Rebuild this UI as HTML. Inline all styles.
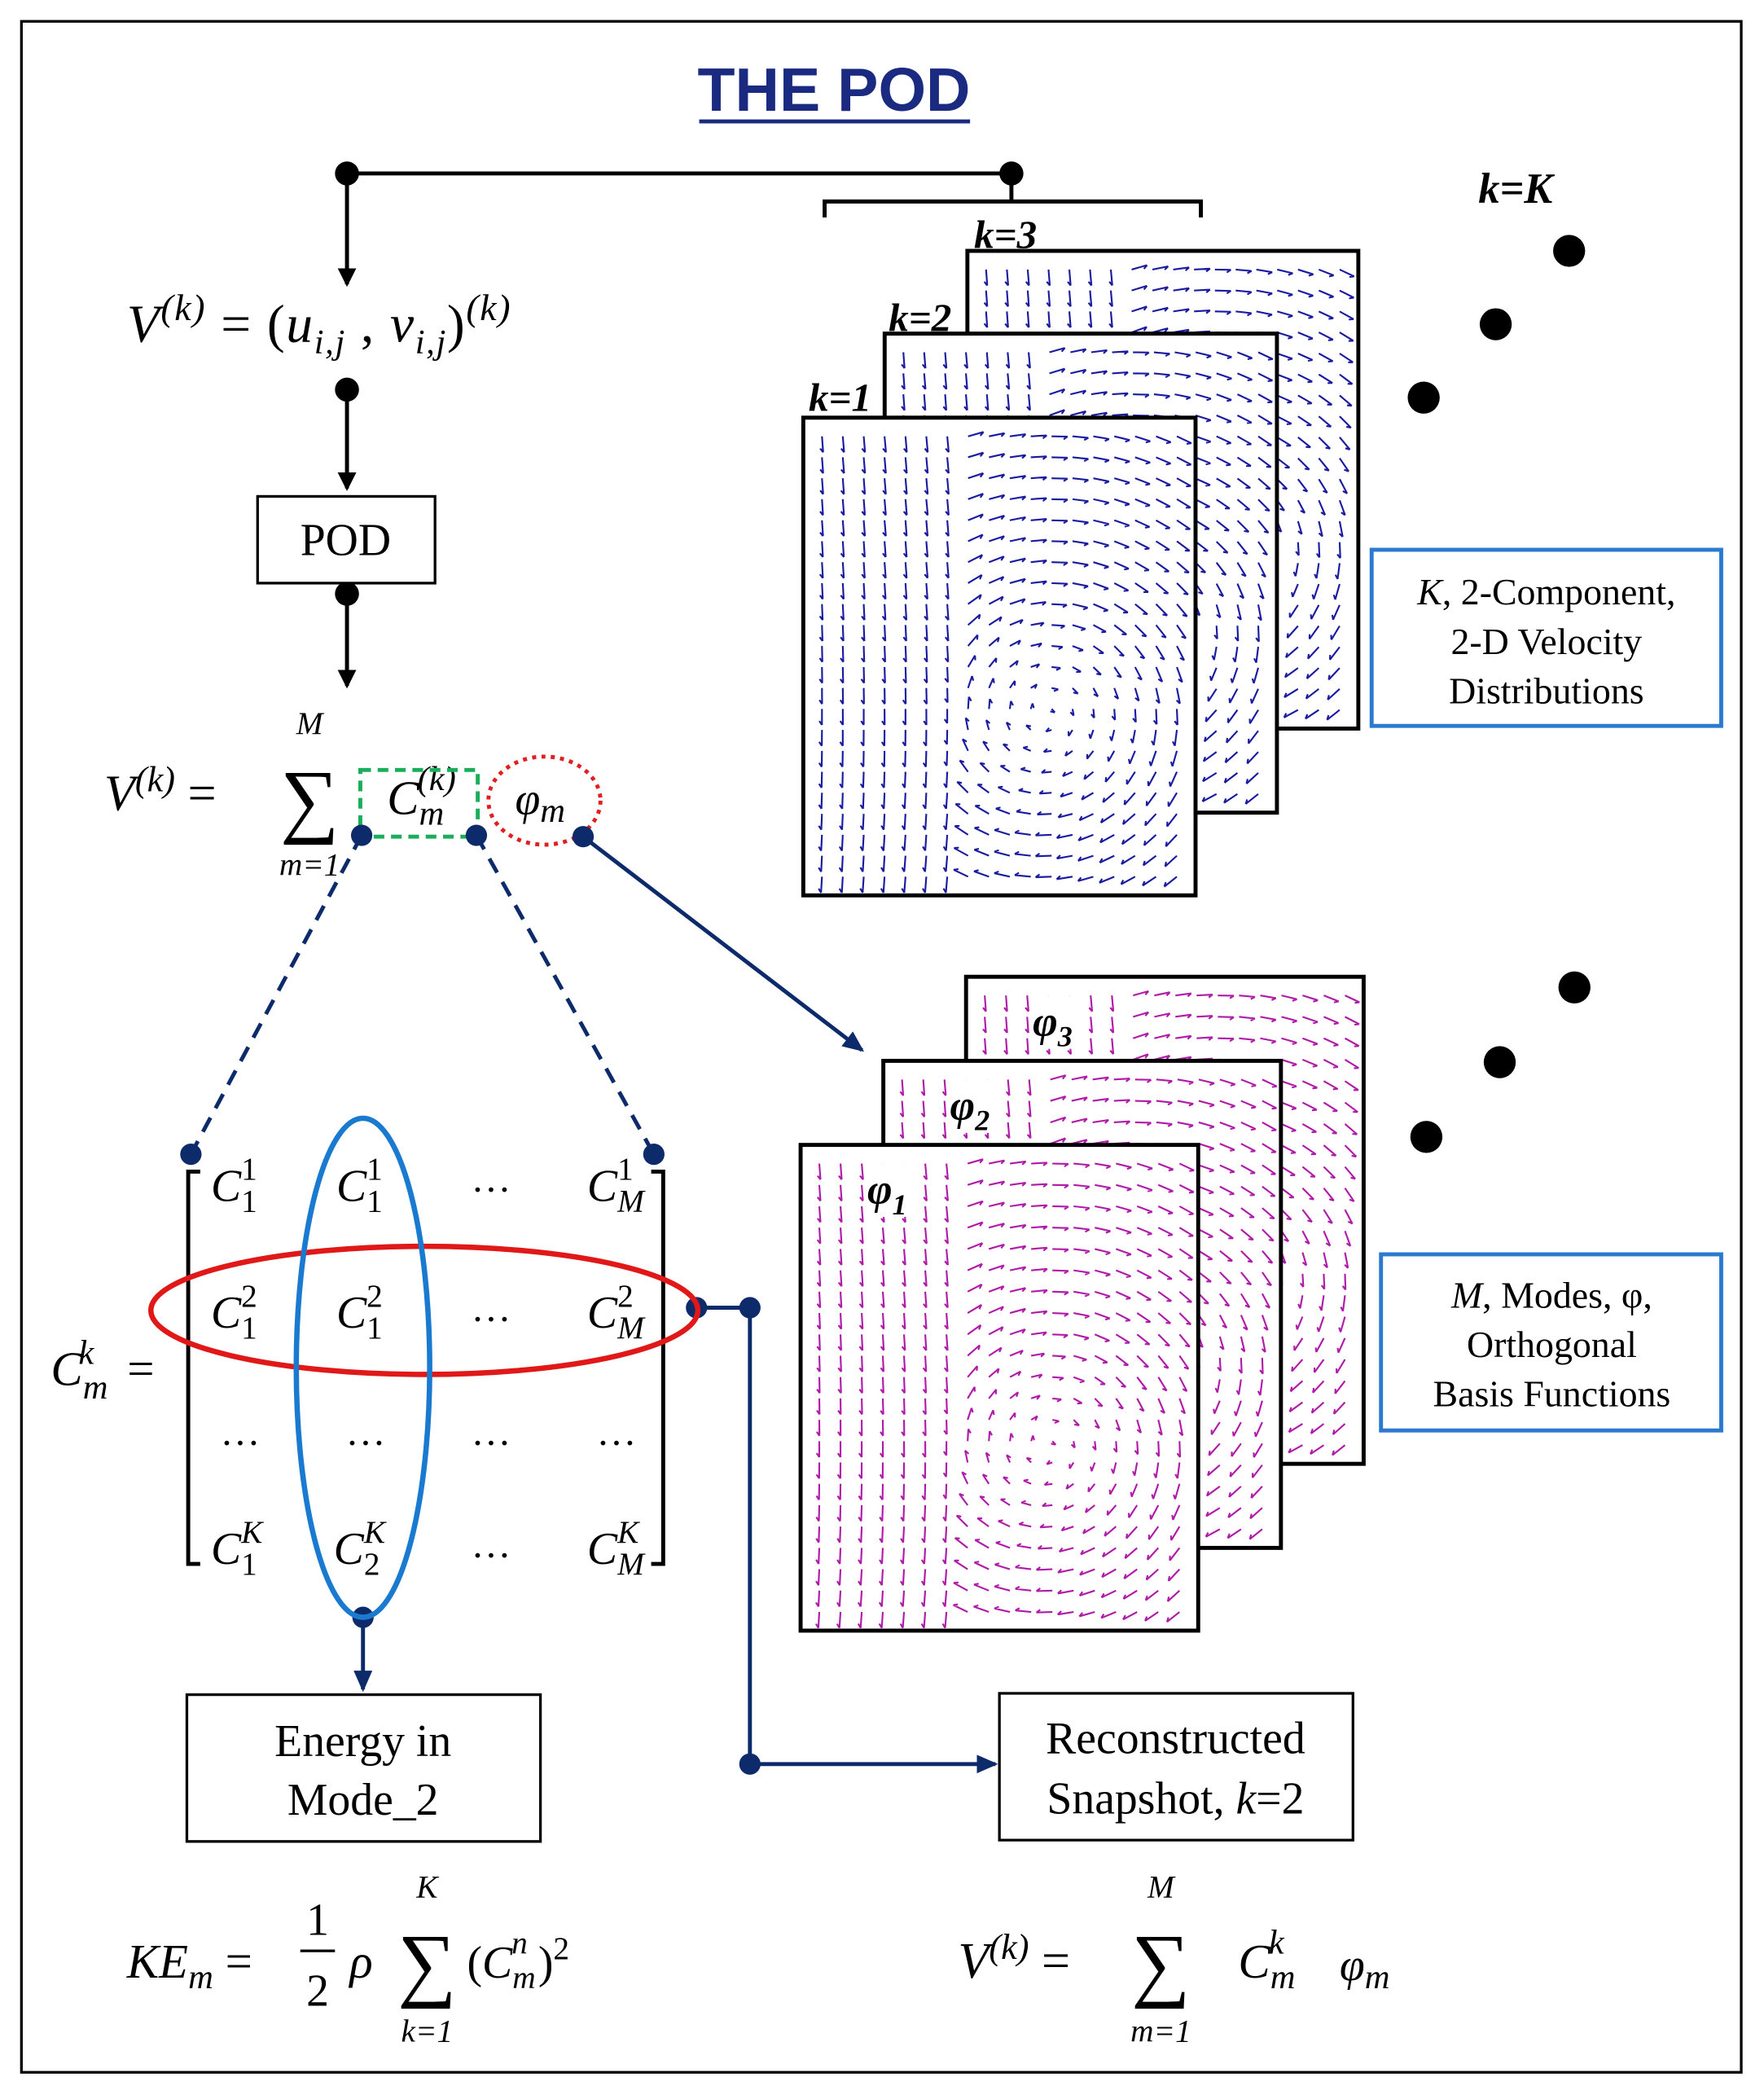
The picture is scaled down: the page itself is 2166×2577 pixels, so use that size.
<!DOCTYPE html>
<html><head><meta charset="utf-8"><style>
html,body{margin:0;padding:0;background:#fff}
svg{display:block}
text{font-family:"Liberation Serif",serif}
.it{font-style:italic}
.up{font-style:normal}
</style></head><body>
<svg id="s" width="2166" height="2577" viewBox="0 0 1322 1573" xmlns="http://www.w3.org/2000/svg">
<defs>
<marker id="an" markerWidth="16" markerHeight="14" refX="14" refY="7" orient="auto" markerUnits="userSpaceOnUse"><path d="M0,0 L16,7 L0,14 z" fill="#0d2a6b"/></marker>
<marker id="ab" markerWidth="14" markerHeight="14" refX="12" refY="7" orient="auto" markerUnits="userSpaceOnUse"><path d="M0,0 L14,7 L0,14 z" fill="#000"/></marker>
</defs>
<rect x="16" y="16" width="1289" height="1537" fill="#fff" stroke="#000" stroke-width="2"/>
<text x="625" y="83" text-anchor="middle" font-weight="bold" font-size="46" fill="#1a2a80" style="font-family:'Liberation Sans',sans-serif">THE POD</text>
<line x1="524" y1="91" x2="727" y2="91" stroke="#1a2a80" stroke-width="3"/>

<g stroke="#000" stroke-width="3" fill="none">
<line x1="260" y1="130" x2="758" y2="130"/>
<line x1="260" y1="130" x2="260" y2="213" marker-end="url(#ab)"/>
<path d="M618,163 V151 H900 V163"/>
<line x1="758" y1="130" x2="758" y2="151"/>
<line x1="260" y1="292" x2="260" y2="366" marker-end="url(#ab)"/>
<line x1="260" y1="445" x2="260" y2="514" marker-end="url(#ab)"/>
</g>
<g fill="#000"><circle cx="260" cy="130" r="9"/><circle cx="758" cy="130" r="9"/><circle cx="260" cy="292" r="9"/><circle cx="260" cy="445" r="9"/></g>

<text x="95" y="256" font-size="40" class="it" letter-spacing="1">V<tspan dy="-16" font-size="28">(k)</tspan><tspan dy="16" class="up"> = (</tspan>u<tspan dy="9" font-size="26">i,j</tspan><tspan dy="-9" class="up"> , </tspan>v<tspan dy="9" font-size="26">i,j</tspan><tspan dy="-9" class="up">)</tspan><tspan dy="-16" font-size="28">(k)</tspan></text>

<rect x="193" y="372" width="133" height="65" fill="#fff" stroke="#000" stroke-width="2"/>
<text x="259" y="416" text-anchor="middle" font-size="34">POD</text>

<text x="78" y="607" font-size="38" class="it">V<tspan dy="-14" font-size="27">(k)</tspan><tspan dy="14" class="up"> =</tspan></text>
<text x="232" y="620" text-anchor="middle" font-size="62">∑</text>
<text x="232" y="550" text-anchor="middle" font-size="24" class="it">M</text>
<text x="232" y="656" text-anchor="middle" font-size="24" class="it">m=1</text>
<text x="290" y="610" font-size="36" class="it">C<tspan dy="8" font-size="26">m</tspan><tspan dx="-20" dy="-26" font-size="26">(k)</tspan></text>
<text x="386" y="610" font-size="34" class="it">φ<tspan dy="6" font-size="26">m</tspan></text>
<rect x="270" y="577" width="88" height="50" fill="none" stroke="#1aae5a" stroke-width="3" stroke-dasharray="8,5"/>
<ellipse cx="408" cy="600" rx="42" ry="33" fill="none" stroke="#e02020" stroke-width="3" stroke-dasharray="3,4"/>
<g stroke="#0d2a6b" stroke-width="3" fill="none">
<line x1="271" y1="626" x2="143" y2="865" stroke-dasharray="12,8"/>
<line x1="357" y1="626" x2="490" y2="865" stroke-dasharray="12,8"/>
<line x1="437" y1="627" x2="646" y2="787" marker-end="url(#an)"/>
<path d="M522,980 H562 V1322 H746" marker-end="url(#an)"/>
<line x1="272" y1="1212" x2="272" y2="1266" marker-end="url(#an)"/>
</g>
<g fill="#0d2a6b"><circle cx="271" cy="626" r="8"/><circle cx="357" cy="626" r="8"/><circle cx="437" cy="627" r="8"/><circle cx="143" cy="865" r="8"/><circle cx="490" cy="865" r="8"/><circle cx="522" cy="980" r="8"/><circle cx="562" cy="980" r="8"/><circle cx="562" cy="1322" r="8"/><circle cx="272" cy="1212" r="8"/></g>

<path d="M150,878 H141 V1172 H150" fill="none" stroke="#000" stroke-width="3"/>
<path d="M488,878 H497 V1172 H488" fill="none" stroke="#000" stroke-width="3"/>
<text x="38" y="1038" font-size="36" class="it">C<tspan dy="10" font-size="26">m</tspan><tspan dx="-22" dy="-26" font-size="26">k</tspan><tspan dx="16" dy="16" class="up" font-size="36"> =</tspan></text>
<g font-size="34" class="it">
<text x="158" y="900">C<tspan dy="8" font-size="24" class="up">1</tspan><tspan dx="-12" dy="-24" font-size="24" class="up">1</tspan></text>
<text x="252" y="900">C<tspan dy="8" font-size="24" class="up">1</tspan><tspan dx="-12" dy="-24" font-size="24" class="up">1</tspan></text>
<text x="440" y="900">C<tspan dy="8" font-size="24">M</tspan><tspan dx="-20" dy="-24" font-size="24" class="up">1</tspan></text>
<text x="158" y="995">C<tspan dy="8" font-size="24" class="up">1</tspan><tspan dx="-12" dy="-24" font-size="24" class="up">2</tspan></text>
<text x="252" y="995">C<tspan dy="8" font-size="24" class="up">1</tspan><tspan dx="-12" dy="-24" font-size="24" class="up">2</tspan></text>
<text x="440" y="995">C<tspan dy="8" font-size="24">M</tspan><tspan dx="-20" dy="-24" font-size="24" class="up">2</tspan></text>
<text x="158" y="1172">C<tspan dy="8" font-size="24" class="up">1</tspan><tspan dx="-12" dy="-24" font-size="24">K</tspan></text>
<text x="250" y="1172">C<tspan dy="8" font-size="24" class="up">2</tspan><tspan dx="-12" dy="-24" font-size="24">K</tspan></text>
<text x="440" y="1172">C<tspan dy="8" font-size="24">M</tspan><tspan dx="-20" dy="-24" font-size="24">K</tspan></text>
</g>
<g font-size="30" text-anchor="middle">
<text x="368" y="893">…</text><text x="368" y="990">…</text><text x="368" y="1167">…</text>
<text x="180" y="1083">…</text><text x="274" y="1083">…</text><text x="368" y="1083">…</text><text x="462" y="1083">…</text>
</g>
<ellipse cx="318" cy="982" rx="205" ry="48" fill="none" stroke="#e01818" stroke-width="4"/>
<ellipse cx="272" cy="1025" rx="50" ry="187" fill="none" stroke="#1a7ad0" stroke-width="4"/>

<rect x="140" y="1270" width="265" height="110" fill="#fff" stroke="#000" stroke-width="2"/>
<text x="272" y="1316" text-anchor="middle" font-size="34">Energy in</text>
<text x="272" y="1360" text-anchor="middle" font-size="34">Mode_2</text>
<rect x="749" y="1269" width="265" height="110" fill="#fff" stroke="#000" stroke-width="2"/>
<text x="881" y="1314" text-anchor="middle" font-size="34">Reconstructed</text>
<text x="881" y="1359" text-anchor="middle" font-size="34">Snapshot, <tspan class="it">k</tspan>=2</text>

<text x="95" y="1482" font-size="36" class="it">KE<tspan dy="8" font-size="26">m</tspan><tspan dy="-8" class="up"> =</tspan></text>
<text x="238" y="1450" text-anchor="middle" font-size="34">1</text>
<line x1="225" y1="1462" x2="251" y2="1462" stroke="#000" stroke-width="2"/>
<text x="238" y="1503" text-anchor="middle" font-size="34">2</text>
<text x="262" y="1482" font-size="36" class="it">ρ</text>
<text x="320" y="1492" text-anchor="middle" font-size="62">∑</text>
<text x="320" y="1422" text-anchor="middle" font-size="24" class="it">K</text>
<text x="320" y="1530" text-anchor="middle" font-size="24" class="it">k=1</text>
<text x="350" y="1482" font-size="34">(<tspan class="it">C</tspan><tspan dy="8" font-size="24" class="it">m</tspan><tspan dx="-18" dy="-26" font-size="24" class="it">n</tspan><tspan dx="8" dy="18" font-size="34">)</tspan><tspan dy="-14" font-size="24">2</tspan></text>

<text x="718" y="1482" font-size="38" class="it">V<tspan dy="-14" font-size="27">(k)</tspan><tspan dy="14" class="up"> =</tspan></text>
<text x="870" y="1492" text-anchor="middle" font-size="62">∑</text>
<text x="870" y="1422" text-anchor="middle" font-size="24" class="it">M</text>
<text x="870" y="1530" text-anchor="middle" font-size="24" class="it">m=1</text>
<text x="928" y="1482" font-size="36" class="it">C<tspan dy="8" font-size="26">m</tspan><tspan dx="-20" dy="-26" font-size="26">k</tspan></text>
<text x="1004" y="1484" font-size="34" class="it">φ<tspan dy="6" font-size="26">m</tspan></text>

<g id="fields"></g>

<text x="730" y="186" font-size="30" font-weight="bold" class="it">k=3</text>
<text x="666" y="248" font-size="30" font-weight="bold" class="it">k=2</text>
<text x="606" y="308" font-size="30" font-weight="bold" class="it">k=1</text>
<text x="1108" y="152" font-size="32" font-weight="bold" class="it">k=K</text>
<g fill="#000"><circle cx="1176" cy="188" r="12"/><circle cx="1121" cy="243" r="12"/><circle cx="1067" cy="298" r="12"/>
<circle cx="1180" cy="740" r="12"/><circle cx="1124" cy="796" r="12"/><circle cx="1069" cy="852" r="12"/></g>

<rect x="1028" y="412" width="262" height="132" fill="#fff" stroke="#2a7ad0" stroke-width="3"/>
<text x="1159" y="453" text-anchor="middle" font-size="28"><tspan class="it">K</tspan>, 2-Component,</text>
<text x="1159" y="490" text-anchor="middle" font-size="28">2-D Velocity</text>
<text x="1159" y="527" text-anchor="middle" font-size="28">Distributions</text>
<rect x="1035" y="940" width="255" height="132" fill="#fff" stroke="#2a7ad0" stroke-width="3"/>
<text x="1163" y="980" text-anchor="middle" font-size="28"><tspan class="it">M</tspan>, Modes, φ,</text>
<text x="1163" y="1017" text-anchor="middle" font-size="28">Orthogonal</text>
<text x="1163" y="1054" text-anchor="middle" font-size="28">Basis Functions</text>
</svg>
<script>
(function(){
var g=document.getElementById('fields'),NS='http://www.w3.org/2000/svg';
function frame(x,y,w,h,col,label){
 var r=document.createElementNS(NS,'rect');
 r.setAttribute('x',x);r.setAttribute('y',y);r.setAttribute('width',w);r.setAttribute('height',h);
 r.setAttribute('fill','#fff');r.setAttribute('stroke','#000');r.setAttribute('stroke-width','3');g.appendChild(r);
 var d='',cx=x+w*0.62,cy=y+h*0.62;
 for(var i=0;i<18;i++)for(var j=0;j<22;j++){
  var px=x+14+i*(w-28)/17,py=y+14+j*(h-28)/21;
  var dx=px-cx,dy=py-cy,rr=Math.sqrt(dx*dx+dy*dy)+1;
  var vx=-dy/rr,vy=dx/rr;
  var lx=(px-x)/w; if(lx<0.4){vx=0.1*vx;vy=1;}
  var m=Math.min(1,rr/(w*0.3))*9+3;
  var n=Math.sqrt(vx*vx+vy*vy);vx/=n;vy/=n;
  var ex=px+vx*m,ey=py+vy*m;
  d+='M'+px.toFixed(1)+','+py.toFixed(1)+'L'+ex.toFixed(1)+','+ey.toFixed(1);
  d+='M'+(ex-vx*3-vy*2).toFixed(1)+','+(ey-vy*3+vx*2).toFixed(1)+'L'+ex.toFixed(1)+','+ey.toFixed(1);
 }
 var p=document.createElementNS(NS,'path');p.setAttribute('d',d);p.setAttribute('stroke',col);p.setAttribute('stroke-width','1.3');p.setAttribute('fill','none');g.appendChild(p);
 if(label){var t=document.createElementNS(NS,'text');t.setAttribute('x',x+(label[1]));t.setAttribute('y',y+44);t.setAttribute('font-size','32');t.setAttribute('font-weight','bold');t.setAttribute('font-style','italic');t.textContent='φ';var s=document.createElementNS(NS,'tspan');s.setAttribute('dy','8');s.setAttribute('font-size','22');s.textContent=label[0];t.appendChild(s);
  var bg=document.createElementNS(NS,'rect');bg.setAttribute('x',x+label[1]-2);bg.setAttribute('y',y+14);bg.setAttribute('width','44');bg.setAttribute('height','40');bg.setAttribute('fill','#fff');g.appendChild(bg);g.appendChild(t);}
}
frame(725,188,293,358,'#1a1aa0');frame(663,250,294,359,'#1a1aa0');frame(602,313,294,358,'#1a1aa0');
frame(724,732,298,365,'#b01aa8',['3',50]);frame(662,795,298,365,'#b01aa8',['2',50]);frame(600,858,298,364,'#b01aa8',['1',50]);
})();
</script>
</body></html>
